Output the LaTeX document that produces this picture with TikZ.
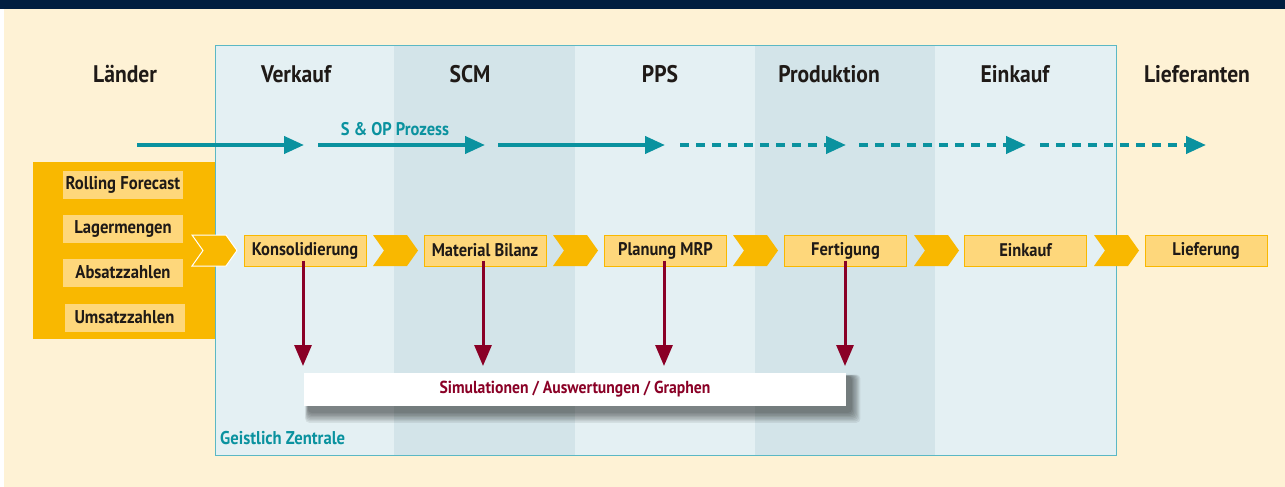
\documentclass[tikz,border=0pt]{standalone}
\usepackage{fontspec}
\setmainfont{PT Sans}[FakeStretch=0.9]
\usetikzlibrary{arrows.meta}
\definecolor{navy}{HTML}{001E40}
\definecolor{cream}{HTML}{FEF2D5}
\definecolor{collight}{HTML}{E4F0F3}
\definecolor{coldark}{HTML}{D3E4E9}
\definecolor{boxborder}{HTML}{5BB8C4}
\definecolor{tealarrow}{HTML}{0A929F}
\definecolor{orangey}{HTML}{F9B800}
\definecolor{lightyel}{HTML}{FED77B}
\definecolor{darkred}{HTML}{8A0026}
\definecolor{txt}{HTML}{1F1A17}
\begin{document}
\begin{tikzpicture}[x=1pt,y=-1pt,
  heading/.style={font=\fontsize{24}{26}\selectfont\bfseries, text=txt, inner sep=0pt},
  procbox/.style={fill=lightyel, draw=orangey, line width=1pt, minimum width=122pt, minimum height=31pt, inner sep=0pt, font=\fontsize{18.3}{20}\selectfont\bfseries, text=txt},
  databox/.style={fill=lightyel, minimum width=120pt, minimum height=28pt, inner sep=0pt, font=\fontsize{18.5}{20}\selectfont\bfseries, text=txt},
  tealflow/.style={draw=tealarrow, line width=4pt, -{Triangle[length=20pt,width=17pt]}},
  tealdash/.style={tealflow, dash pattern=on 9pt off 7pt},
  redflow/.style={draw=darkred, line width=3pt, -{Triangle[length=21pt,width=17pt]}},
  chev/.style={fill=orangey}
]
\path[use as bounding box] (0,0) rectangle (1285,487);
% background
\fill[white] (0,0) rectangle (1285,487);
\fill[cream] (4,9) rectangle (1285,487);
\fill[navy] (0,0) rectangle (1285,9);
% column bands
\fill[collight] (215,46) rectangle (394,455);
\fill[coldark] (394,46) rectangle (575,455);
\fill[collight] (575,46) rectangle (755,455);
\fill[coldark] (755,46) rectangle (935,455);
\fill[collight] (935,46) rectangle (1116,455);
\draw[boxborder, line width=1pt] (215,46) rectangle (1116,455);
% headings
\node[heading] (hLaender) at (125,74) {Länder};
\node[heading] (hVerkauf) at (296,74) {Verkauf};
\node[heading] (hSCM) at (470,74) {SCM};
\node[heading] (hPPS) at (660,74) {PPS};
\node[heading] (hProd) at (829,74) {Produktion};
\node[heading] (hEink) at (1015,74) {Einkauf};
\node[heading] (hLief) at (1197,74) {Lieferanten};
% S&OP
\node[font=\fontsize{18.3}{20}\selectfont\bfseries, text=tealarrow, inner sep=0pt] (sop) at (395,129) {S \& OP Prozess};
\coordinate (t0) at (137,145);
\coordinate (t1) at (304,145);
\coordinate (t1s) at (318,145);
\coordinate (t2) at (485,145);
\coordinate (t2s) at (498,145);
\coordinate (t3) at (665,145);
\coordinate (t3s) at (680,145);
\coordinate (t4) at (846,145);
\coordinate (t4s) at (859,145);
\coordinate (t5) at (1026,145);
\coordinate (t5s) at (1040,145);
\coordinate (t6) at (1206,145);
\draw[tealflow] (t0) -- (t1);
\draw[tealflow] (t1s) -- (t2);
\draw[tealflow] (t2s) -- (t3);
\draw[tealdash] (t3s) -- (t4);
\draw[tealdash] (t4s) -- (t5);
\draw[tealdash] (t5s) -- (t6);
% left data box
\fill[orangey] (33,162) rectangle (215,339);
\node[databox] (dRoll) at (123,185) {Rolling Forecast};
\node[databox] (dLager) at (123,229) {Lagermengen};
\node[databox] (dAbs) at (123,272.5) {Absatzzahlen};
\node[databox] (dUms) at (124.5,317.5) {Umsatzzahlen};
% chevrons
\foreach \cx in {192,373,553,733,914,1094}{
  \path[chev] (\cx,235) -- ++(34,0) -- ++(11,15.5) -- ++(-11,15.5) -- ++(-34,0) -- ++(11,-15.5) -- cycle;
}
\draw[white, line width=1pt] (192,235) -- ++(34,0) -- ++(11,15.5) -- ++(-11,15.5) -- ++(-34,0) -- ++(11,-15.5) -- cycle;
% process boxes
\node[procbox] (pKons) at (305,250.5) {Konsolidierung};
\node[procbox] (pMat) at (485,250.5) {Material Bilanz};
\node[procbox] (pPlan) at (665.5,250.5) {Planung MRP};
\node[procbox] (pFert) at (845.5,250.5) {Fertigung};
\node[procbox] (pEink) at (1025.5,250.5) {Einkauf};
\node[procbox] (pLief) at (1206,250.5) {Lieferung};
% shadow of simulation box
\foreach \k in {0,1,...,7}{
  \fill[black, opacity=0.07, rounded corners=4pt] ({308-\k*0.4},{376-\k*0.2}) rectangle ({852+\k*1.2},{413+\k*1.4});
}
\node[fill=white, minimum width=542pt, minimum height=33pt, inner sep=0pt, font=\fontsize{17.4}{19}\selectfont\bfseries, text=darkred] (sim) at (575,389) {Simulationen / Auswertungen / Graphen};
% red arrows
\coordinate (e1) at (303,366);
\coordinate (e2) at (483,366);
\coordinate (e3) at (664,366);
\coordinate (e4) at (845,366);
\draw[redflow] ([yshift=6pt]pKons.south -| e1) -- (e1);
\draw[redflow] ([yshift=6pt]pMat.south -| e2) -- (e2);
\draw[redflow] ([yshift=6pt]pPlan.south -| e3) -- (e3);
\draw[redflow] ([yshift=6pt]pFert.south -| e4) -- (e4);
% label
\node[font=\fontsize{18.5}{20}\selectfont\bfseries, text=tealarrow, inner sep=0pt, anchor=west] (zentrale) at (220,438) {Geistlich Zentrale};
\end{tikzpicture}
\end{document}
